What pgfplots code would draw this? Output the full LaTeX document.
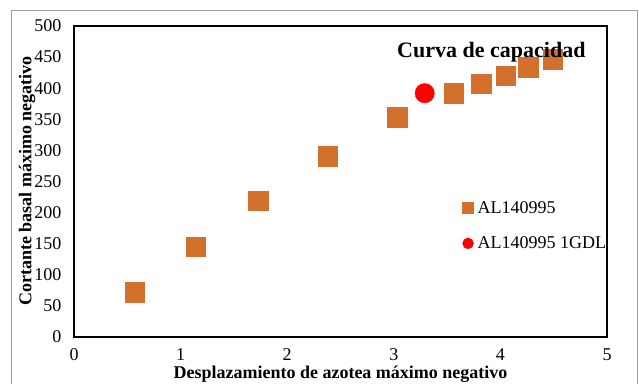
\documentclass[border=0pt]{standalone}
\usepackage{pgfplots}
\pgfplotsset{compat=1.18}
\usepackage{fontspec}
\setmainfont{Liberation Serif}
\definecolor{orangeM}{RGB}{210,112,44}
\definecolor{frameG}{RGB}{160,160,160}
\begin{document}
\begin{tikzpicture}[x=1bp,y=1bp]
\useasboundingbox (0,0) rectangle (639,383);
\draw[color=frameG, line width=1bp] (11,-5) -- (11,372.5) -- (637,372.5) -- (637,-5);
\begin{axis}[
  name=ax,
  at={(74bp,46bp)}, anchor=south west,
  scale only axis, width=533bp, height=311bp,
  xmin=0, xmax=5, ymin=0, ymax=500,
  xtick={0,1,2,3,4,5}, ytick={0,50,...,500},
  axis line style={draw=black, line width=2.2bp},
  major tick length=0pt,
  /pgf/number format/assume math mode=true,
  tick label style={font=\fontsize{18bp}{21bp}\selectfont},
  yticklabel style={xshift=-9bp},
  xticklabel style={yshift=-8bp},
  legend style={draw=none, fill=none, at={(0.723,0.447)}, anchor=north west,
    font=\fontsize{18bp}{21bp}\selectfont, row sep=20bp, column sep=3bp,
    nodes={inner sep=1bp}},
  legend cell align=left,
  legend image code/.code={\draw[#1, mark size=5.5bp] plot coordinates {(0bp,0bp)};},
  clip=false,
]
\addplot[only marks, mark=square*, mark size=9.8bp, color=orangeM] coordinates {
(0.57,72) (1.14,145) (1.73,219) (2.38,291) (3.03,353) (3.56,392) (3.82,407) (4.05,420) (4.26,434) (4.49,447)};
\addlegendentry{AL140995}
\addplot[only marks, mark=*, mark size=9.7bp, color=red] coordinates {(3.29,392)};
\addlegendentry{AL140995 1GDL}
\end{axis}
\draw[color=black, line width=2.2bp] (74,46) -- (607,46) -- (607,357) -- (74,357) -- cycle;
\node[anchor=base east, font=\bfseries\fontsize{22bp}{26bp}\selectfont] at (589,326) {Curva de capacidad};
\node[rotate=90, font=\bfseries\fontsize{18bp}{21bp}\selectfont] at (27,202) {Cortante basal máximo negativo};
\node[anchor=base, font=\bfseries\fontsize{18bp}{21bp}\selectfont] at (340.5,4.5) {Desplazamiento de azotea máximo negativo};
\end{tikzpicture}
\end{document}
